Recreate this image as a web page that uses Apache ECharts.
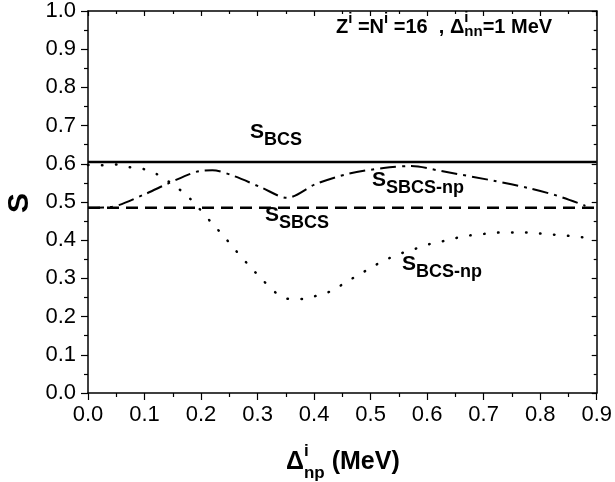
<!DOCTYPE html>
<html>
<head>
<meta charset="utf-8">
<script src="https://cdn.jsdelivr.net/npm/echarts@6/dist/echarts.min.js"></script>
<style>
  html, body { margin: 0; padding: 0; background: #fff; }
  #chart { width: 615px; height: 482px; }
</style>
</head>
<body>
<div id="chart"></div>
<script>
// 数据
const xLevels = [0, 0.9];
const sBCS = [0.605, 0.605];
const sSBCS = [0.485, 0.485];

const xSBCSnp = [0, 0.04, 0.1, 0.144, 0.197, 0.22, 0.26, 0.308, 0.352, 0.403, 0.461, 0.523, 0.572, 0.625, 0.72, 0.778, 0.831, 0.88];
const sSBCSnp = [0.485, 0.487, 0.52, 0.55, 0.581, 0.583, 0.567, 0.537, 0.511, 0.547, 0.574, 0.589, 0.594, 0.581, 0.555, 0.537, 0.516, 0.49];

const xBCSnp = [0, 0.024, 0.05, 0.074, 0.099, 0.123, 0.147, 0.174, 0.196, 0.219, 0.241, 0.262, 0.284, 0.307, 0.332, 0.357, 0.382, 0.405, 0.432, 0.456, 0.482, 0.505, 0.53, 0.555, 0.58, 0.605, 0.63, 0.655, 0.678, 0.704, 0.728, 0.754, 0.778, 0.803, 0.828, 0.853, 0.878];
const sBCSnp = [0.597, 0.596, 0.598, 0.591, 0.586, 0.572, 0.549, 0.518, 0.484, 0.445, 0.409, 0.372, 0.335, 0.299, 0.263, 0.246, 0.246, 0.255, 0.268, 0.29, 0.312, 0.332, 0.351, 0.366, 0.378, 0.39, 0.398, 0.407, 0.413, 0.417, 0.42, 0.42, 0.42, 0.417, 0.414, 0.411, 0.407];

const FONT = '"Liberation Sans", Arial, sans-serif';
const pairs = (xs, ys) => xs.map((x, i) => [x, ys[i]]);

// 文字排版（上下标）
const ctx = document.createElement('canvas').getContext('2d');
function textRow(x, y, parts) {
    const out = [];
    let cx = x;
    parts.forEach((p) => {
        ctx.font = 'bold ' + p.size + 'px ' + FONT;
        const w = ctx.measureText(p.t).width;
        out.push({
            type: 'text',
            x: cx,
            y: y + (p.dy || 0),
            silent: true,
            style: {
                text: p.t,
                fontSize: p.size,
                fontWeight: 'bold',
                fontFamily: FONT,
                fill: '#000',
                verticalAlign: 'middle',
            },
        })
        if (p.adv !== false) cx += w;
    })
    return out;
}

function sLabel(x, y, sub) {
    return textRow(x, y, [
        { t: 'S', size: 21 },
        { t: sub, size: 18, dy: 8 },
    ]);
}

const graphics = [].concat(
    textRow(336, 27, [
        { t: 'Z', size: 20 },
        { t: 'i', size: 15, dy: -8 },
        { t: ' =N', size: 20 },
        { t: 'i', size: 15, dy: -8 },
        { t: ' =16  , \u0394', size: 20 },
        { t: 'i', size: 15, dy: -9, adv: false },
        { t: 'nn', size: 15, dy: 5 },
        { t: '=1 MeV', size: 20 },
    ]),
    sLabel(250, 132, 'BCS'),
    sLabel(265, 215, 'SBCS'),
    sLabel(372, 180, 'SBCS-np'),
    sLabel(402, 264, 'BCS-np'),
    textRow(286, 462, [
        { t: '\u0394', size: 25 },
        { t: 'i', size: 17, dy: -11, adv: false },
        { t: 'np', size: 17, dy: 11 },
        { t: ' (MeV)', size: 25 },
    ]),
    [{
        type: 'text',
        x: 20,
        y: 203,
        rotation: Math.PI / 2,
        silent: true,
        style: {
            text: 'S',
            fontSize: 30,
            fontWeight: 'bold',
            fontFamily: FONT,
            fill: '#000',
            align: 'center',
            verticalAlign: 'middle',
        },
    }]
);

const axisLine = { show: true, onZero: false, lineStyle: { color: '#000', width: 1.5 } };

const chart = echarts.init(document.getElementById('chart'), null, { renderer: 'canvas' });
chart.setOption({
    animation: false,
    backgroundColor: '#fff',
    grid: { left: 88, right: 16, top: 9, bottom: 89, containLabel: false },
    xAxis: [
        {
            type: 'value', min: 0, max: 0.9, interval: 0.1, position: 'bottom',
            axisLine,
            axisTick: { show: true, length: 7, lineStyle: { color: '#000', width: 1.2 } },
            minorTick: { show: true, splitNumber: 2, length: 4, lineStyle: { color: '#000', width: 1.2 } },
            axisLabel: { color: '#000', fontSize: 22, fontFamily: FONT, margin: 11, formatter: (v) => v.toFixed(1) },
            splitLine: { show: false },
        },
        {
            type: 'value', min: 0, max: 0.9, interval: 0.1, position: 'top',
            axisLine,
            axisTick: { show: true, inside: true, length: 5, lineStyle: { color: '#000', width: 1.2 } },
            minorTick: { show: true, splitNumber: 2, length: 3, lineStyle: { color: '#000', width: 1.2 } },
            axisLabel: { show: false },
            splitLine: { show: false },
        },
    ],
    yAxis: [
        {
            type: 'value', min: 0, max: 1, interval: 0.1, position: 'left',
            axisLine,
            axisTick: { show: true, length: 7, lineStyle: { color: '#000', width: 1.2 } },
            minorTick: { show: true, splitNumber: 2, length: 4, lineStyle: { color: '#000', width: 1.2 } },
            axisLabel: { color: '#000', fontSize: 22, fontFamily: FONT, margin: 12, formatter: (v) => v.toFixed(1) },
            splitLine: { show: false },
        },
        {
            type: 'value', min: 0, max: 1, interval: 0.1, position: 'right',
            axisLine,
            axisTick: { show: true, inside: true, length: 5, lineStyle: { color: '#000', width: 1.2 } },
            minorTick: { show: true, splitNumber: 2, length: 3, lineStyle: { color: '#000', width: 1.2 } },
            axisLabel: { show: false },
            splitLine: { show: false },
        },
    ],
    series: [
        {
            name: 'S_BCS', type: 'line', showSymbol: false,
            data: pairs(xLevels, sBCS),
            lineStyle: { color: '#000', width: 2.5 },
        },
        {
            name: 'S_SBCS', type: 'line', showSymbol: false,
            data: pairs(xLevels, sSBCS),
            lineStyle: { color: '#000', width: 2.5, type: [12, 7] },
        },
        {
            name: 'S_SBCS-np', type: 'line', showSymbol: false, smooth: 0.3,
            data: pairs(xSBCSnp, sSBCSnp),
            lineStyle: { color: '#000', width: 2, type: [16, 6, 3, 6] },
        },
        {
            name: 'S_BCS-np', type: 'line', showSymbol: false, smooth: 0.3,
            data: pairs(xBCSnp, sBCSnp),
            lineStyle: { color: '#000', width: 2.5, type: [0.5, 13.5], cap: 'round' },
        },
    ],
    graphic: graphics,
})
</script>
</body>
</html>
